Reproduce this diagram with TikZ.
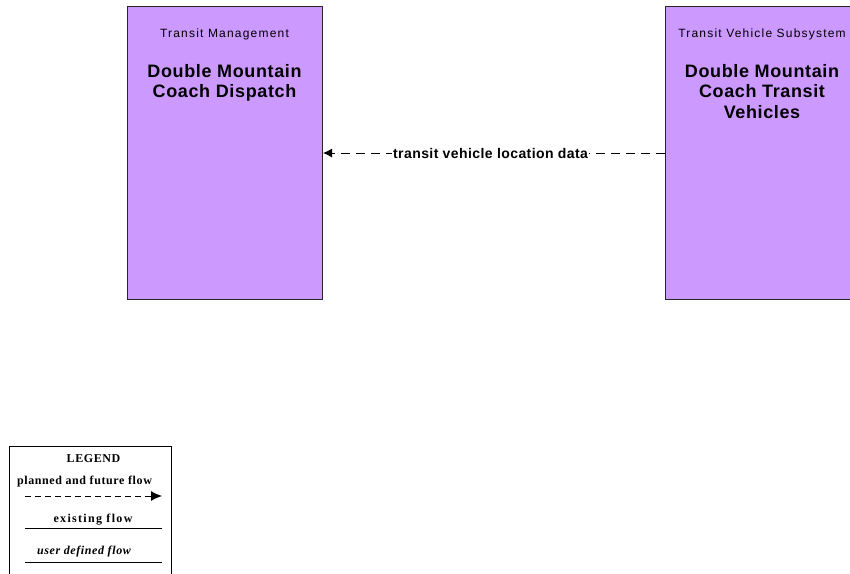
\documentclass[tikz,border=0pt]{standalone}
\usepackage{fontspec}
\setmainfont{Liberation Sans}
\newfontfamily\legfont{Liberation Serif}
\usetikzlibrary{arrows.meta}
\definecolor{boxfill}{HTML}{CC99FF}
\begin{document}
\begin{tikzpicture}[x=1pt,y=-1pt,
  sysbox/.style={draw=black!85, line width=1pt, fill=boxfill, minimum width=195pt, minimum height=293pt, inner sep=0pt, anchor=north west},
  typetext/.style={font=\fontsize{12}{14}\selectfont\addfontfeatures{LetterSpace=10}, inner sep=0pt},
  nametext/.style={font=\fontsize{18}{20.5}\selectfont\bfseries\addfontfeatures{LetterSpace=3.5}, align=center, inner sep=0pt, anchor=north},
  flowlabel/.style={font=\fontsize{14}{16}\selectfont\bfseries\addfontfeatures{LetterSpace=3}, fill=white, inner sep=1pt},
  flow/.style={line width=1pt, dash pattern=on 9pt off 6pt, -{Latex[length=9pt,width=9pt]}},
  legtext/.style={font=\fontsize{12}{14}\selectfont\legfont\bfseries\addfontfeatures{LetterSpace=5}, inner sep=0pt},
  legline/.style={line width=1pt},
]
\useasboundingbox (0,0) rectangle (850,573);
\fill[white] (0,0) rectangle (850,573);

% system boxes
\node[sysbox] (tm) at (127,6) {};
\node[sysbox] (tv) at (665,6) {};

\node[typetext] (tmtype) at (224.5,34) {Transit Management};
\node[nametext] (tmname) at (224.5,64) {Double Mountain\\Coach Dispatch};

\node[typetext] (tvtype) at (762,34) {Transit Vehicle Subsystem};
\node[nametext] (tvname) at (762,64) {Double Mountain\\Coach Transit\\Vehicles};

% flow
\coordinate (fsrc) at (tv.west |- 0,153);
\coordinate (fdst) at (tm.east |- 0,153);
\draw[flow] (fsrc) -- (fdst) node[flowlabel, pos=0.51] (flab) {transit vehicle location data};

% legend
\node[draw=black, line width=0.8pt, minimum width=162pt, minimum height=150pt, inner sep=0pt, anchor=north west] (legend) at (9,446) {};
\node[legtext] (lgtitle) at (93.5,459) {LEGEND};
\node[legtext] (lgplanned) at (84.5,482) {planned and future flow};
\coordinate (p1a) at (25,496);
\coordinate (p1b) at (162,496);
\draw[line width=1pt, dash pattern=on 6pt off 4pt, -{Latex[length=11pt,width=10pt]}] (p1a) -- (p1b);
\node[legtext, font=\fontsize{12}{14}\selectfont\legfont\bfseries\addfontfeatures{LetterSpace=11}] (lgexist) at (93,520) {existing flow};
\coordinate (p2a) at (25,528);
\coordinate (p2b) at (162,528);
\draw[legline] (p2a) -- (p2b);
\node[legtext, font=\fontsize{12}{14}\selectfont\legfont\bfseries\itshape\addfontfeatures{LetterSpace=5}] (lguser) at (84,552) {user defined flow};
\coordinate (p3a) at (25,562);
\coordinate (p3b) at (162,562);
\draw[legline] (p3a) -- (p3b);
\end{tikzpicture}
\end{document}
